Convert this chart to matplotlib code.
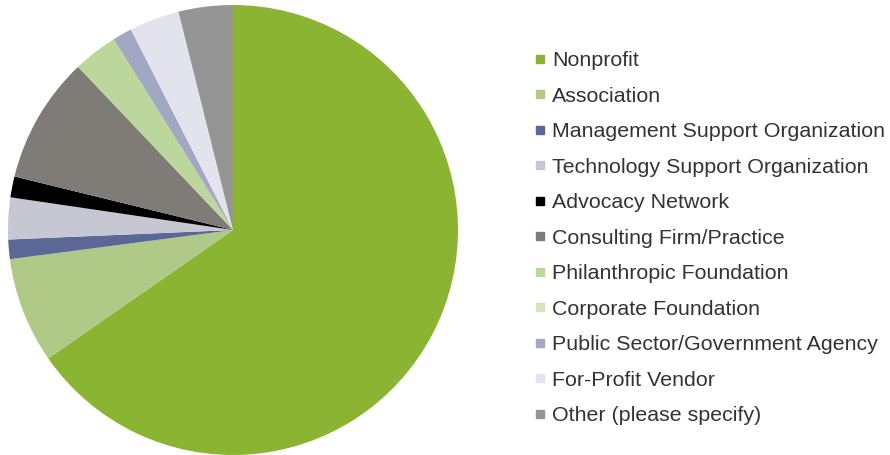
import matplotlib
matplotlib.use("Agg")
import matplotlib.pyplot as plt
from matplotlib.lines import Line2D

categories = [
    "Nonprofit",
    "Association",
    "Management Support Organization",
    "Technology Support Organization",
    "Advocacy Network",
    "Consulting Firm/Practice",
    "Philanthropic Foundation",
    "Corporate Foundation",
    "Public Sector/Government Agency",
    "For-Profit Vendor",
    "Other (please specify)",
]
shares = [65.4, 7.6, 1.4, 3.0, 1.5, 9.1, 3.2, 0.0, 1.4, 3.6, 3.9]
colors = [
    "#8ab432", "#b0c986", "#5a6797", "#c6c7d3", "#000000", "#7f7c77",
    "#bcd79b", "#d2e5be", "#a2a8c1", "#e3e3ee", "#959595",
]

W, H = 890, 455
fig = plt.figure(figsize=(W / 100, H / 100), dpi=100)

# pie: centre at (233, 230) px from top-left, radius ~225 px
r = 225
cx, cy = 233, H - 230
ax = fig.add_axes([(cx - r) / W, (cy - r) / H, 2 * r / W, 2 * r / H])
ax.pie(shares, colors=colors, startangle=90, counterclock=False,
       wedgeprops=dict(linewidth=0))
ax.set_xlim(-1, 1)
ax.set_ylim(-1, 1)
ax.set_aspect("equal")
ax.axis("off")

handles = [Line2D([], [], marker="s", linestyle="none", markersize=5.4,
                  markerfacecolor=c, markeredgecolor=c) for c in colors]
leg = fig.legend(handles, categories, loc="upper left",
                 bbox_to_anchor=(533.5 / W, 1 - 51.5 / H),
                 frameon=False, prop=dict(family="Liberation Sans", size=15.4),
                 handlelength=0.6, handletextpad=0.28, labelspacing=0.77,
                 borderpad=0, borderaxespad=0)
for t in leg.get_texts():
    t.set_color("#333333")

fig.savefig("out.png", dpi=100)
